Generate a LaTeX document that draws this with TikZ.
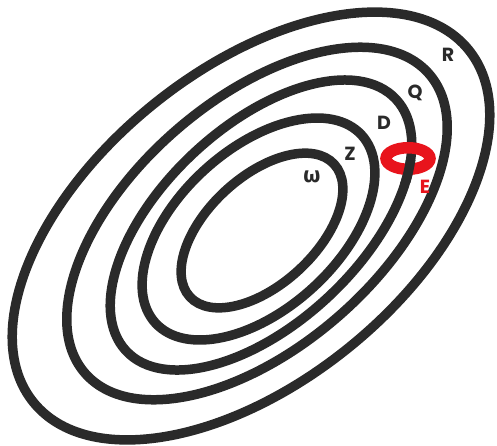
\documentclass[tikz,border=0pt]{standalone}
\usepackage{fontspec}
\usepackage{xcolor}
\usepackage{tikz}
\newfontfamily\lblfont{Poppins}
\newfontfamily\greekfont{Fira Sans}
\definecolor{inkgray}{HTML}{2A2A2A}
\definecolor{ringred}{HTML}{E8141C}
\tikzset{
  contour/.style={line width=9.5pt, draw=inkgray},
  lbl/.style={font=\lblfont\bfseries\fontsize{19}{19}\selectfont, text=inkgray, inner sep=0pt},
}

\begin{document}
\begin{tikzpicture}[x=1pt, y=-1pt]
  \useasboundingbox (0,0) rectangle (497,445);
  % level curves, outer to inner
  \draw[contour, rotate around={39:(251,226)}]   (251,226) ellipse [x radius=280, y radius=156];
  \draw[contour, rotate around={41:(257,223.5)}] (257,223.5) ellipse [x radius=228, y radius=123.5];
  \draw[contour, rotate around={43:(261,225)}]   (261,225) ellipse [x radius=184.5, y radius=98.5];
  \draw[contour, rotate around={42.3:(258.5,229)}] (258.5,229) ellipse [x radius=139.5, y radius=80];
  \draw[contour, rotate around={42.6:(262,230.5)}] (262,230.5) ellipse [x radius=98, y radius=54];
  % red ring threaded on D
  \draw[ringred, line width=11.5pt] (408,158.5) ellipse [x radius=22, y radius=10.75];
  \begin{scope}
    \clip (396,160) rectangle (424,182);
    \draw[contour, rotate around={43:(261,225)}] (261,225) ellipse [x radius=184.5, y radius=98.5];
  \end{scope}
  % labels
  \node[lbl] (lblR) at (448,55) {R};
  \node[lbl] (lblQ) at (415,93) {Q};
  \node[lbl] (lblD) at (384,123) {D};
  \node[lbl] (lblZ) at (350,154) {Z};
  \node[lbl, text=ringred] (lblE) at (425,187) {E};
  \node[lbl, font=\greekfont\bfseries\fontsize{22}{22}\selectfont] (lblW) at (312,177) {ω};
\end{tikzpicture}
\end{document}
